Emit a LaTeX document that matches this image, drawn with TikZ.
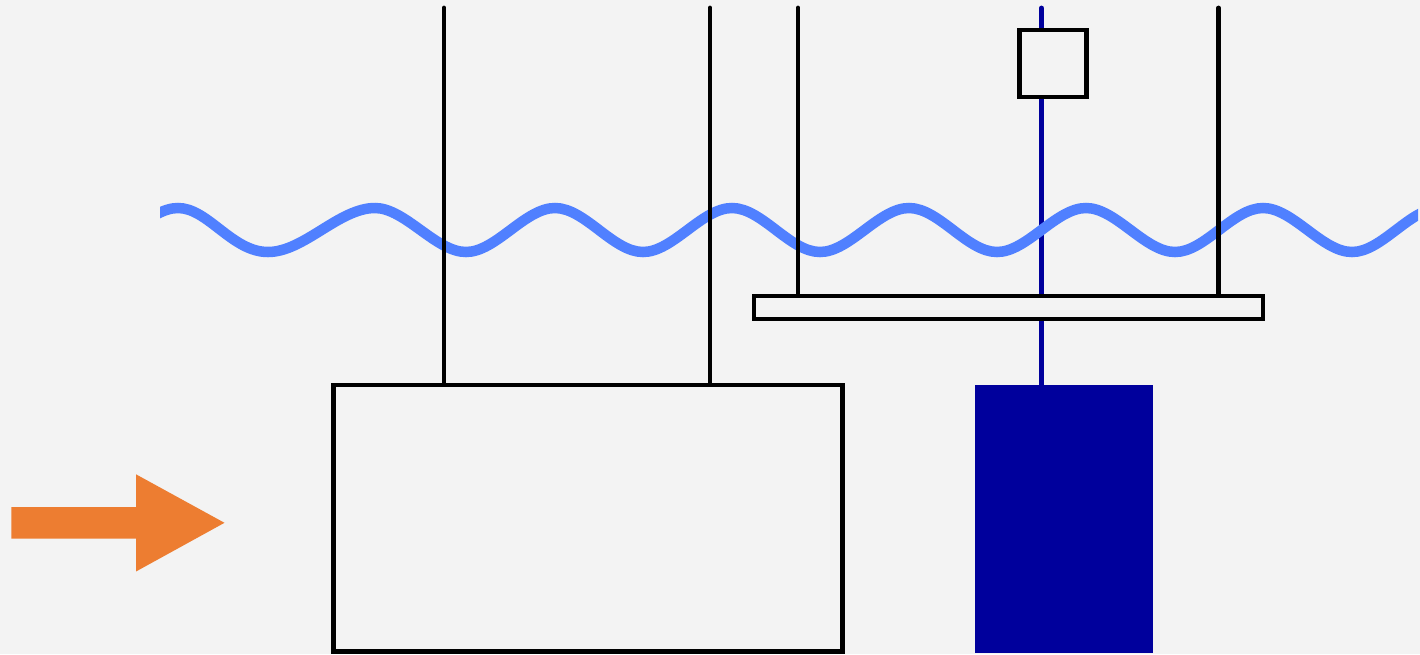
\documentclass[tikz,border=0pt]{standalone}
\pgfdeclarelayer{back}
\pgfdeclarelayer{under}
\pgfdeclarelayer{mid}
\pgfdeclarelayer{over}
\pgfsetlayers{back,under,mid,over,main}
\definecolor{pagebg}{HTML}{F3F3F3}
\definecolor{wavec}{HTML}{5080FF}
\definecolor{navy}{HTML}{00009C}
\definecolor{orangec}{HTML}{ED7D31}
\tikzset{
  boxed/.style={draw=black,line width=4.8pt,fill=pagebg,rectangle,inner sep=0pt,outer sep=0pt,minimum width=#1},
  solidbox/.style={fill=navy,rectangle,inner sep=0pt,outer sep=0pt,minimum width=178pt,minimum height=267.5pt},
  rod/.style={draw=black,line width=4.8pt,line cap=round},
  bluerod/.style={draw=navy,line width=4.8pt,line cap=round},
  wave/.style={draw=wavec,line width=10.5pt}
}
\begin{document}
\begin{tikzpicture}[x=1pt,y=-1pt]
\useasboundingbox (0,0) rectangle (1420,654);
\begin{pgfonlayer}{back}
\fill[pagebg] (0,0) rectangle (1420,654);
\end{pgfonlayer}
% bodies
\node[boxed=509pt,minimum height=266.5pt] (big) at (588,518.25) {};
\node[boxed=509pt,minimum height=23pt] (bar) at (1008.5,307.5) {};
\node[boxed=66.5pt,minimum height=67pt] (sq) at (1053,63.5) {};
\node[solidbox] (heavy) at (1064,518.75) {};
% free ends of the rods
\coordinate (ta) at (444,8);
\coordinate (tb) at (710,8);
\coordinate (tc) at (798,8);
\coordinate (td) at (1041.3,8);
\coordinate (te) at (1218.7,8);
\begin{pgfonlayer}{under}
\draw[bluerod] (td) -- (td |- heavy.north);
\end{pgfonlayer}
\begin{pgfonlayer}{mid}
\begin{scope}
\clip (160,190) rectangle (1418,270);
\draw[wave] (88,252)
  .. controls +(30,0) and +(-30,0) .. (178,208)
  .. controls +(30,0) and +(-36,0) .. (268,252)
  .. controls +(36,0) and +(-36,0) .. (375,208)
  .. controls +(30,0) and +(-30,0) .. (466,252)
  .. controls +(30,0) and +(-30,0) .. (555,208)
  .. controls +(30,0) and +(-30,0) .. (643,252)
  .. controls +(30,0) and +(-30,0) .. (732,208)
  .. controls +(30,0) and +(-30,0) .. (820,252)
  .. controls +(30,0) and +(-30,0) .. (909,208)
  .. controls +(30,0) and +(-30,0) .. (997,252)
  .. controls +(30,0) and +(-30,0) .. (1086,208)
  .. controls +(30,0) and +(-30,0) .. (1175,252)
  .. controls +(30,0) and +(-30,0) .. (1263,208)
  .. controls +(30,0) and +(-30,0) .. (1352,252)
  .. controls +(30,0) and +(-30,0) .. (1440,208);
\end{scope}
\end{pgfonlayer}
\begin{pgfonlayer}{over}
\draw[rod] (ta) -- (ta |- big.north);
\draw[rod] (tb) -- (tb |- big.north);
\draw[rod] (tc) -- (tc |- bar.north);
\draw[rod] (te) -- (te |- bar.north);
\end{pgfonlayer}
% inflow arrow
\fill[orangec] (11.3,507) -- (136,507) -- (136,474.3) -- (224.5,522.8) -- (136,571.5) -- (136,538.7) -- (11.3,538.7) -- cycle;
\end{tikzpicture}
\end{document}
